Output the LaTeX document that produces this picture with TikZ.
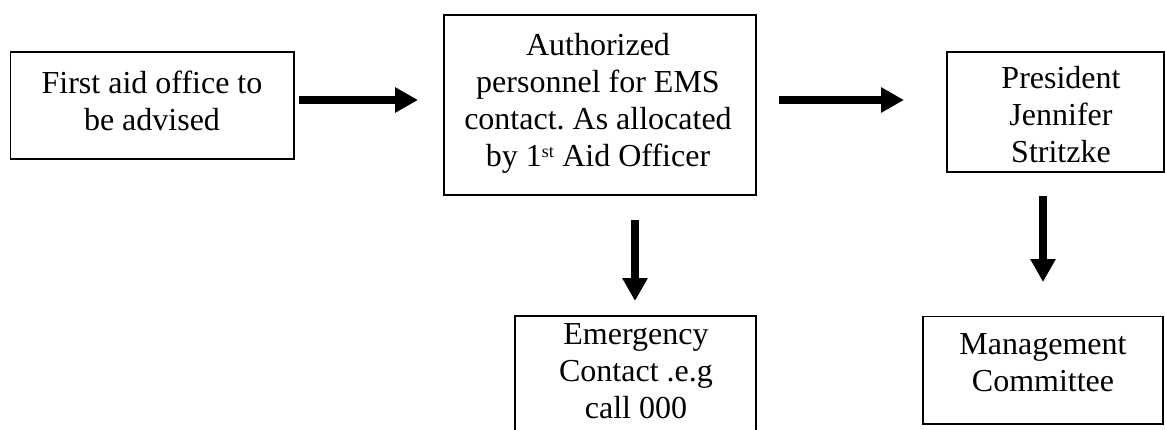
\documentclass[tikz,border=0pt]{standalone}
\usepackage{fontspec}
\setmainfont{Liberation Serif}
\usetikzlibrary{arrows.meta}
\frenchspacing
\begin{document}
\begin{tikzpicture}[x=1pt,y=-1pt,
  box/.style={draw=black,line width=1.6pt,inner sep=0pt},
  txt/.style={align=center,inner sep=0pt,anchor=north,font=\fontsize{32}{37}\selectfont},
  blockarrow/.style={line width=8pt,-{Triangle[width=24pt,length=23pt]}}]
\fill[white] (0,0) rectangle (1165,429);
\useasboundingbox (0,0) rectangle (1165,429);
% boxes
\node[box,minimum width=283.5pt,minimum height=107pt] (b1) at (152.25,105.5) {};
\node[box,minimum width=312pt,minimum height=180pt] (b2) at (600,105) {};
\node[box,minimum width=217pt,minimum height=120pt] (b3) at (1055.5,112) {};
\node[box,minimum width=241pt,minimum height=154pt] (b4) at (635.5,393) {};
\node[box,minimum width=240pt,minimum height=107.5pt] (b5) at (1043,370.25) {};
% texts
\node[txt] (t1) at (152,67.1) {\strut First aid office to\\\strut be advised};
\node[txt] (t2) at (598,29.1) {\strut Authorized\\\strut personnel for EMS\\\strut contact. As allocated\\\strut by 1\textsuperscript{\fontsize{18}{20}\selectfont st} Aid Officer};
\node[txt] (t3) at (1061,62.4) {\strut President\\\strut Jennifer\\\strut Stritzke};
\node[txt] (t4) at (636,318.1) {\strut Emergency\\\strut Contact .e.g\\\strut call 000};
\node[txt] (t5) at (1043,328.1) {\strut Management\\\strut Committee};
% arrows
\coordinate (a1s) at (299,100);
\coordinate (a1e) at (418,100);
\coordinate (a2s) at (779,100);
\coordinate (a2e) at (904,100);
\coordinate (a3s) at (635,220);
\coordinate (a3e) at (635,301);
\coordinate (a4s) at (1043,196);
\coordinate (a4e) at (1043,282);
\draw[blockarrow] (a1s) -- (a1e);
\draw[blockarrow] (a2s) -- (a2e);
\draw[blockarrow] (a3s) -- (a3e);
\draw[blockarrow] (a4s) -- (a4e);
\end{tikzpicture}
\end{document}
